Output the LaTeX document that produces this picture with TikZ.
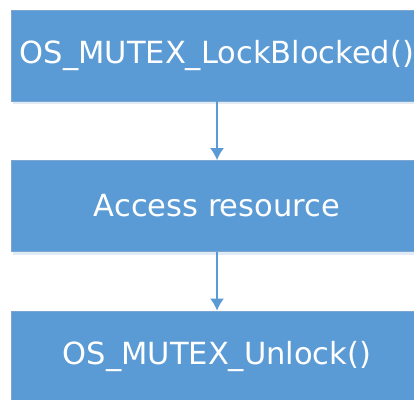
\documentclass[tikz,border=0pt]{standalone}
\usepackage{fontspec}
\setmainfont{DejaVu Sans}
\usetikzlibrary{arrows.meta}
\definecolor{boxblue}{RGB}{91,155,213}
\definecolor{boxedge}{RGB}{125,165,210}
\definecolor{shadowblue}{RGB}{225,235,246}
\begin{document}
\begin{tikzpicture}[x=1pt,y=1pt,
  stepbox/.style={fill=boxblue, draw=boxedge, line width=0.8pt,
    minimum width=412pt, minimum height=91pt, inner sep=0pt,
    text=white, font=\fontsize{30.5}{36}\selectfont},
  conn/.style={draw=boxblue, line width=1.6pt, -{Latex[length=12pt,width=14pt]}}]
\useasboundingbox (0,0) rectangle (414,399);
\clip (0,0) rectangle (414,399);
\fill[white] (0,0) rectangle (414,399);
\foreach \cy in {343.5,193,42.5}{
  \fill[shadowblue] (13,\cy-49) rectangle (425,\cy-42);
}
\node[stepbox] (a) at (217,343.5) {OS\_MUTEX\_LockBlocked()};
\node[stepbox] (b) at (217,193) {Access resource};
\node[stepbox] (c) at (217,42.5) {OS\_MUTEX\_Unlock()};
\draw[conn] (a) -- (b);
\draw[conn] (b) -- (c);
\end{tikzpicture}
\end{document}
